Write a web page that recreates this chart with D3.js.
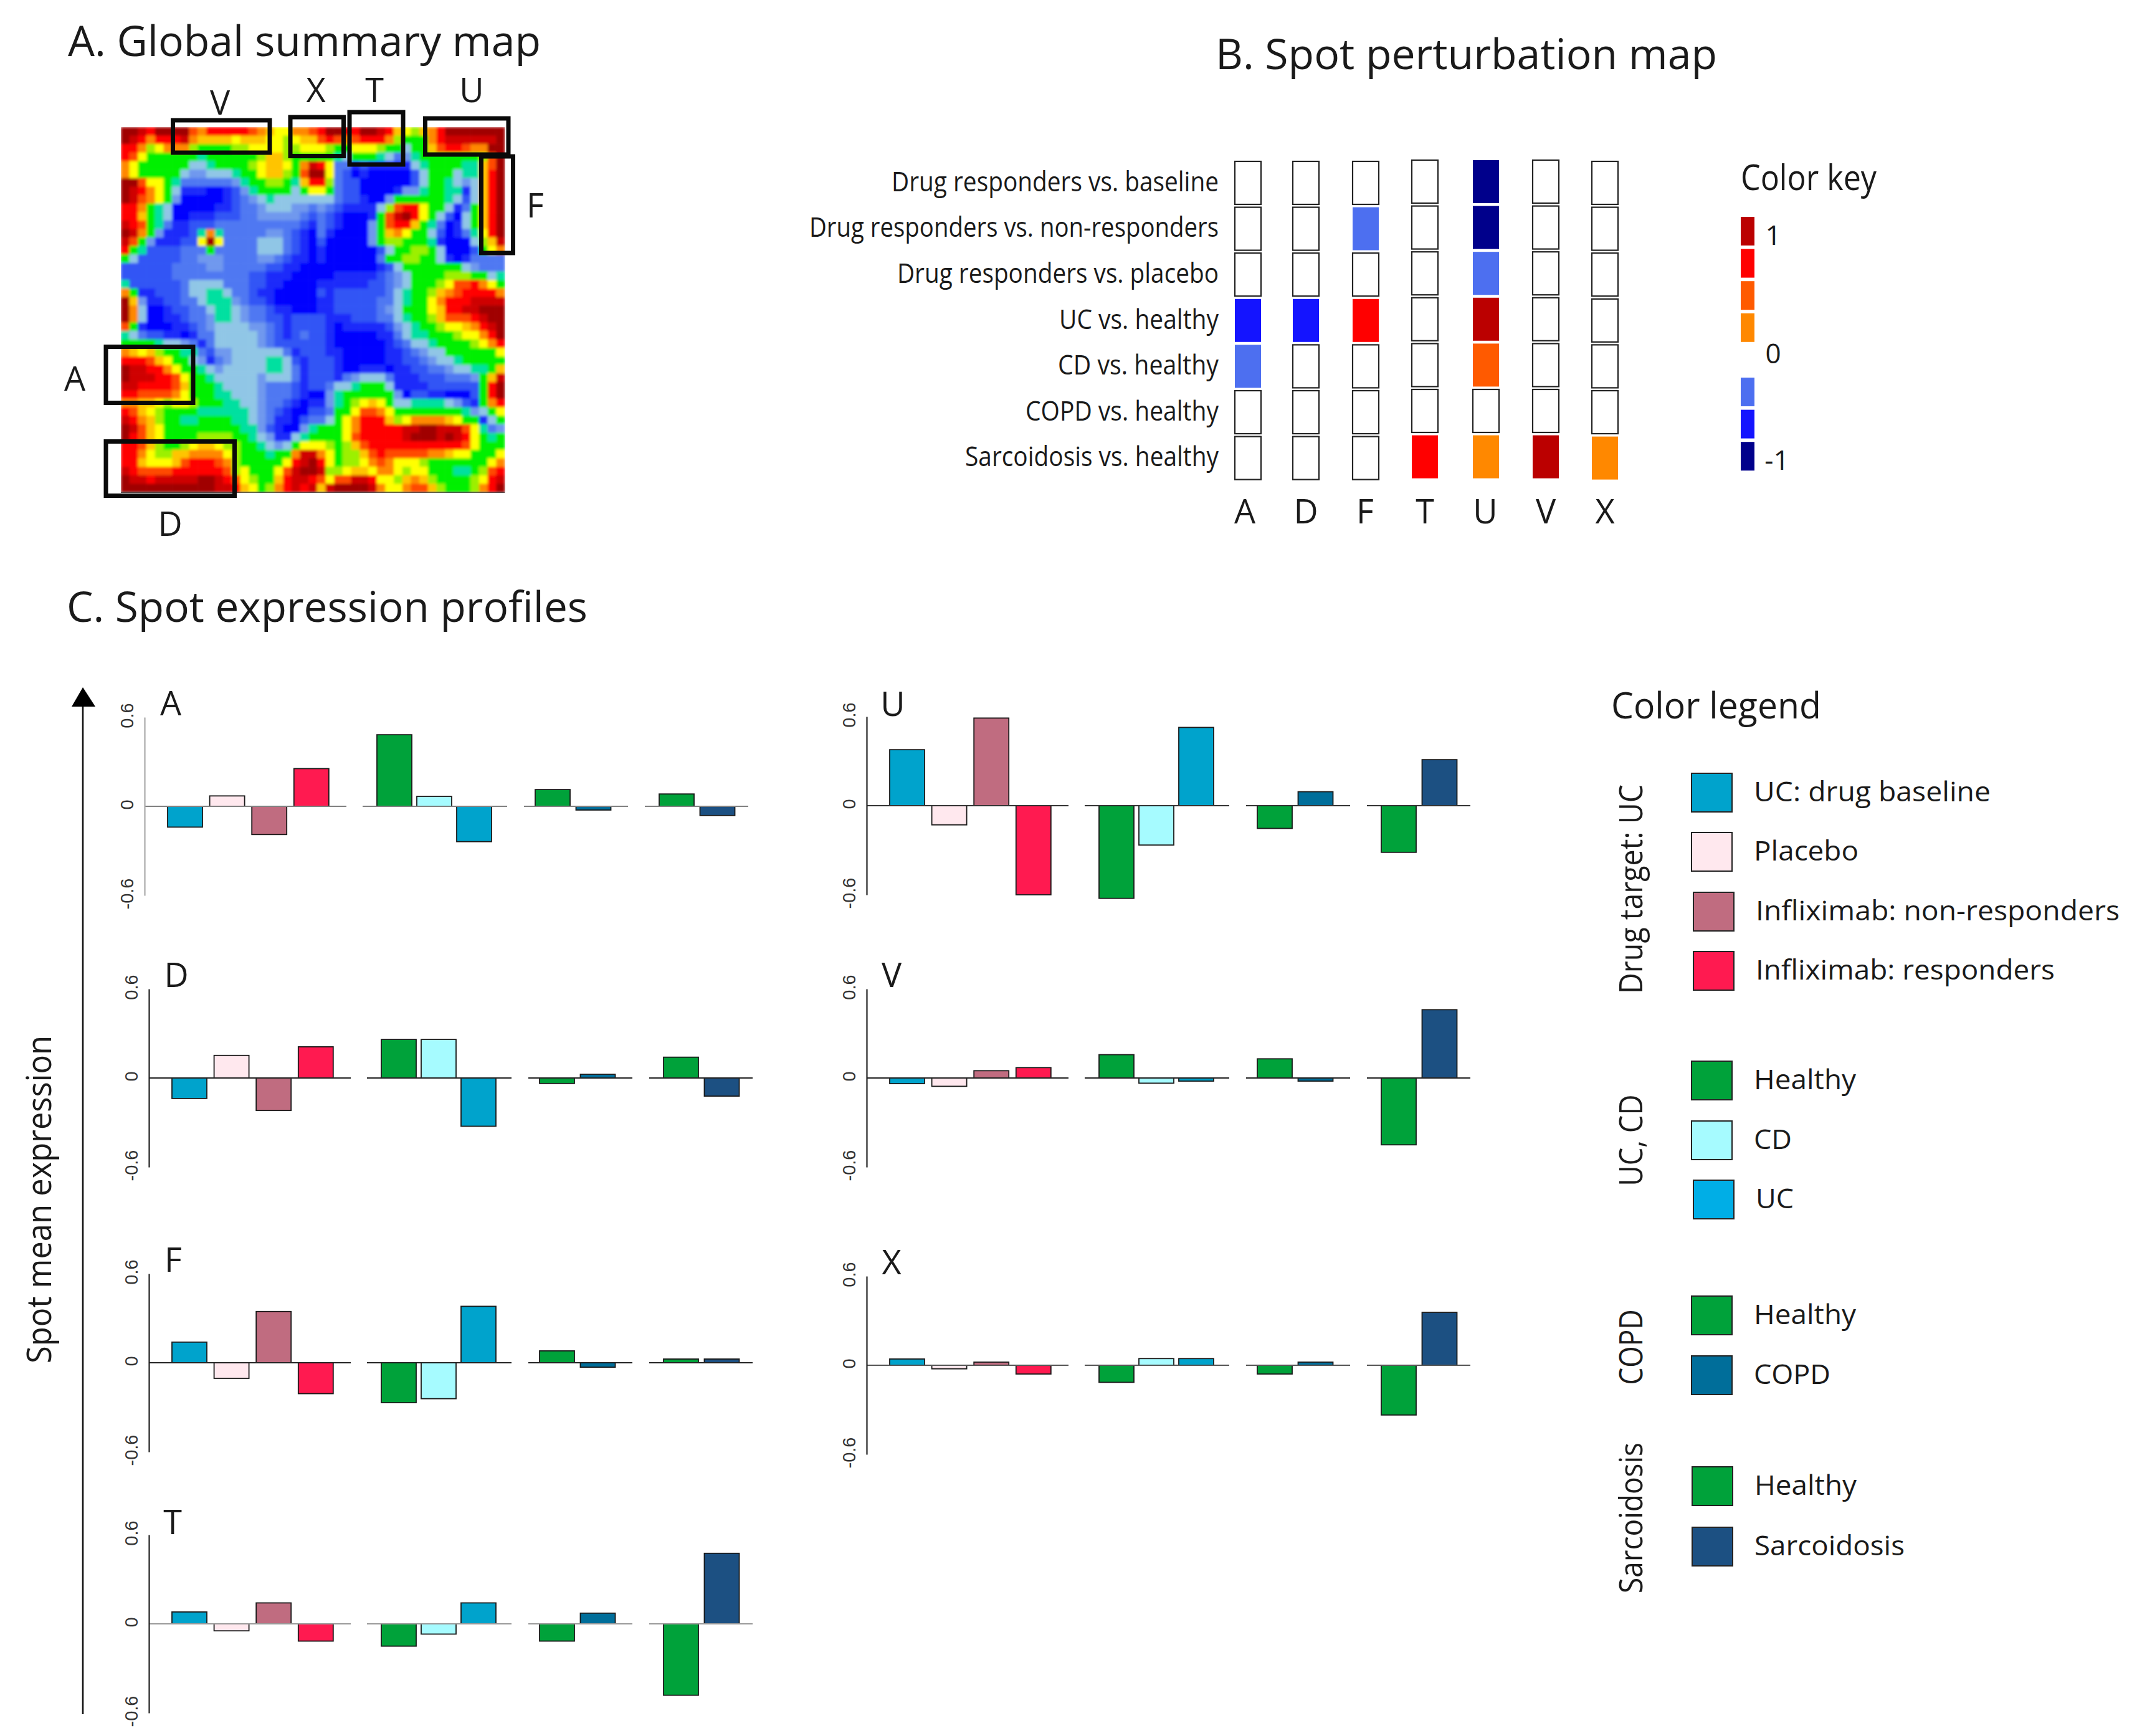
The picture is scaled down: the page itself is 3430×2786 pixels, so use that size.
<!DOCTYPE html>
<html>
<head>
<meta charset="utf-8">
<title>Spot maps and expression profiles</title>
<script src="https://cdn.jsdelivr.net/npm/d3@7"></script>
<style>
  html, body { margin: 0; padding: 0; background: #fff; }
  svg { display: block; }
  text { font-family: "Open Sans", "Noto Sans", sans-serif; fill: #1a1a1a; }
</style>
</head>
<body>
<div id="chart"></div>
<script>
// ---- data -----------------------------------------------------------------

// summary map, one hex digit per cell, 0 = lowest (blue) to f = highest (dark red)
const summaryMap = [
  "ffedffffcbdddddcba99bbcdffddffeda98abdfffffff",
  "fedbdddebaaaa9aaa9989aacdcbcdddb8777bdeeeeeef",
  "ddb89bbb8777788999988999877999877577acddcbbff",
  "dc977777767777778aa877777657776534677777778cf",
  "b9777777556777789aa97bed933121111156777766acf",
  "b9777775445556779aa87cff932010000025777566adf",
  "ffc997633333346778876add832200000025776545adf",
  "fedb97511100124677775799732200001446776615adf",
  "fecb97400000123456555555532210047777776525adf",
  "ddb76500000112334555443432111158cdd9775137adf",
  "dda7650011122233444443232100017cefd9752057adf",
  "edc7631122233333333332132100047cdda7630157adf",
  "feb7411126b63333344321031000047ab9775201369df",
  "ec74111229f93333555321020000047887776100058ae",
  "d7622223337333335553210100000025778875000279b",
  "75222223344433334432110100000037788775101333",
  "222222333344333332211000000000125777777754333",
  "222222333333333221110000011111234577778887756",
  "622222235555333221100001111112234577789ccdb97",
  "b711222355665332110000021222222356778abcddddb",
  "fa41122335666432210000011222223356779bdddeeee",
  "fb50012233566543321100011222223457779addeefff",
  "fb50011233466543322122221112223356778acccdeff",
  "c710001123455554432122221011111245677899abdef",
  "653221101335555543212322100000113566777899bdf",
  "7777655431355555432222221000000123556777789bd",
  "ba9a87766324455555531222110000011234557777779",
  "dddca9775413455556652122210000011223455677777",
  "feeddb97765455555665312221001110112233455667a",
  "feeeddc977655555455531222134555311122233347ae",
  "eeddddca77765555433321223556777511112222227df",
  "ddccccb977766555433321004677777740221100027df",
  "bbaa9899877766554332101146789a9755666654217bd",
  "dca9877776666665432100223779ccb97777777764579",
  "edba87766777766543110233579bddda89bbbba977157",
  "feca97777777776642100467779bdddddeeffeeec9634",
  "fdca97777888877654115677779cdddddefffefed9767",
  "ddca87789aa9887765457999878acdddddddddddc9777",
  "ddb988aabbbb98777677beeb9788acdcccccbba997779",
  "dda999acdddcb8777779defd97889bcb999877777779b",
  "edccccddddddc897779ceffe889aa9bb98997776678cd",
  "feedeeeeeffedc9877adeedc9cceed998aba8777789de",
  "fffffffffffeeda978bdedeaeffffeb99bcca87778bdf"
];
const heatColors = ["#0000ff", "#1a2cfa", "#3355f5", "#4f78f2", "#6f98ee", "#90c6e6",
  "#00e0a0", "#00f000", "#9cf000", "#ffff00", "#ffc400", "#ff8800", "#ff4a00", "#ff0000", "#cf0000", "#a00000"];

// spot boxes drawn on the map
const spotBoxNames = ["V", "X", "T", "U", "F", "A", "D"];

// perturbation map
const contrastLabels = ["Drug responders vs. baseline", "Drug responders vs. non-responders",
  "Drug responders vs. placebo", "UC vs. healthy", "CD vs. healthy", "COPD vs. healthy", "Sarcoidosis vs. healthy"];
const spotLabels = ["A", "D", "F", "T", "U", "V", "X"];
const perturbA = [0, 0, 0, -0.67, -0.33, 0, 0];
const perturbD = [0, 0, 0, -0.67, 0, 0, 0];
const perturbF = [0, -0.33, 0, 0.75, 0, 0, 0];
const perturbT = [0, 0, 0, 0, 0, 0, 0.75];
const perturbU = [-1, -1, -0.33, 1, 0.5, 0, 0.25];
const perturbV = [0, 0, 0, 0, 0, 0, 1];
const perturbX = [0, 0, 0, 0, 0, 0, 0.25];
const keyLevels = [1, 0.75, 0.5, 0.25, 0, -0.33, -0.67, -1];
const keyColors = ["#bb0000", "#ff0000", "#ff5a00", "#ff8800", "#ffffff", "#4d6ff0", "#1414ff", "#00008b"];
const keyTicks = [1, 0, -1];

// expression profiles, in the order of the legend rows
const barGroups = [
  ["drugBase", "placebo", "nonResp", "resp"],
  ["healthyUC", "cd", "uc"],
  ["healthyCOPD", "copd"],
  ["healthySarc", "sarc"]
];
const panelNames = ["A", "D", "F", "T", "U", "V", "X"];
const profileA = [-0.14, 0.07, -0.19, 0.254, 0.482, 0.067, -0.238, 0.113, -0.025, 0.083, -0.062];
const profileD = [-0.138, 0.152, -0.219, 0.21, 0.26, 0.26, -0.325, -0.037, 0.025, 0.14, -0.122];
const profileF = [0.139, -0.105, 0.345, -0.208, -0.269, -0.242, 0.38, 0.08, -0.03, 0.025, 0.025];
const profileT = [0.08, -0.047, 0.141, -0.116, -0.15, -0.069, 0.141, -0.116, 0.072, -0.481, 0.475];
const profileU = [0.377, -0.129, 0.59, -0.6, -0.624, -0.265, 0.527, -0.153, 0.094, -0.314, 0.31];
const profileV = [-0.038, -0.056, 0.049, 0.07, 0.157, -0.035, -0.021, 0.129, -0.021, -0.45, 0.46];
const profileX = [0.042, -0.024, 0.021, -0.059, -0.115, 0.045, 0.045, -0.059, 0.021, -0.335, 0.356];
const profileTicks = [-0.6, 0, 0.6];

const seriesColors = {
  drugBase: "#00a3cc", placebo: "#ffe8ee", nonResp: "#c06c80", resp: "#ff1a50",
  healthyUC: "#00a23a", cd: "#a6fbff", uc: "#00a3cc",
  healthyCOPD: "#00a23a", copd: "#006e9a",
  healthySarc: "#00a23a", sarc: "#1c5082"
};

// legend
const legendHeads = ["Drug target: UC", "UC, CD", "COPD", "Sarcoidosis"];
const legendLabels = [
  ["UC: drug baseline", "Placebo", "Infliximab: non-responders", "Infliximab: responders"],
  ["Healthy", "CD", "UC"],
  ["Healthy", "COPD"],
  ["Healthy", "Sarcoidosis"]
];
const legendColors = [
  ["#00a3cc", "#ffe8ee", "#c06c80", "#ff1a50"],
  ["#00a23a", "#a6fbff", "#00aee6"],
  ["#00a23a", "#006e9a"],
  ["#00a23a", "#1c5082"]
];

// ---- layout ---------------------------------------------------------------

const WIDTH = 3430, HEIGHT = 2786;
const mapBox = { x0: 194, x1: 810, y0: 204, y1: 790 };
const spotBoxes = {
  V: [277.5, 193, 155.5, 52], X: [466, 188, 85.5, 62.5], T: [561, 180, 86, 84],
  U: [682.5, 190, 133.5, 58], F: [772.5, 251, 51, 155], A: [170, 556.5, 140, 90], D: [170, 708.5, 206.5, 87]
};
const spotTextPos = {
  V: [353, 184], X: [507, 164], T: [601, 164], U: [757, 164], F: [859, 349], A: [120, 627], D: [273, 860]
};

const perturb = { cell: 42, y0: 258, rowStep: 73.6, rowH: 69 };
const perturbColumnX = [1982, 2075, 2171, 2266, 2364, 2460, 2555];
const perturbColumnDy = [0, 0, 0, -2, -2, -2, 0];
const spotTextX = [1998, 2096, 2191, 2287, 2384, 2481, 2576];
const contrastWidths = [525, 657, 516, 256, 258, 310, 407];

const panelLayout = {
  A: { axisX: 232, base: 1294, labelX: 274, labelY: 1148, line: "#808080", axis: "#aaaaaa" },
  D: { axisX: 239, base: 1730, labelX: 283, labelY: 1584, line: "#222", axis: "#222" },
  F: { axisX: 239, base: 2187, labelX: 278, labelY: 2041, line: "#222", axis: "#222" },
  T: { axisX: 239, base: 2606, labelX: 277, labelY: 2462, line: "#999999", axis: "#222" },
  U: { axisX: 1391, base: 1293, labelX: 1433, labelY: 1149, line: "#333", axis: "#222" },
  V: { axisX: 1391, base: 1730, labelX: 1431, labelY: 1584, line: "#222", axis: "#222" },
  X: { axisX: 1391, base: 2191, labelX: 1431, labelY: 2045, line: "#555", axis: "#222" }
};
const halfAxis = 143, barW = 56;
const groupLine = [[0, 324], [350, 232], [609, 167], [803, 166]];
const groupBars = [{ start: 37, step: 67.6 }, { start: 373, step: 64 }, { start: 627, step: 65.5 }, { start: 826, step: 65.5 }];

const legendRowY = [[1240, 1335, 1431, 1526], [1702, 1798, 1893], [2079, 2175], [2353, 2450]];
const legendRowDx = [[0, 0, 3, 3], [0, 0, 3], [0, 0], [1, 1]];
const legendWidths = [[380, 168, 584, 480], [164, 61, 61], [164, 123], [164, 241]];
const legendHeadY = [1427, 1830, 2162, 2436];
const legendHeadW = [336, 147, 121, 242];

// ---- drawing --------------------------------------------------------------

const svg = d3.select("#chart").append("svg")
  .attr("width", WIDTH)
  .attr("height", HEIGHT)
  .attr("viewBox", [0, 0, WIDTH, HEIGHT]);

svg.append("rect").attr("width", WIDTH).attr("height", HEIGHT).attr("fill", "#fff");

// text helper: squeezes a string to a wanted width, the source font is narrower than ours
function put(parent, str, x, y, size, width, anchor) {
  const t = parent.append("text")
    .attr("x", x).attr("y", y)
    .attr("font-size", size)
    .attr("text-anchor", anchor || "start")
    .text(str);
  if (width) {
    t.attr("textLength", width).attr("lengthAdjust", "spacingAndGlyphs");
  }
  return t;
}

put(svg, "A. Global summary map", 109, 90, 68, 759);
put(svg, "B. Spot perturbation map", 1951, 111, 68, 805);
put(svg, "C. Spot expression profiles", 107, 998, 68, 836);

// A: summary map
const mapRows = summaryMap.length, mapCols = 45;
const xMap = d3.scaleBand().domain(d3.range(mapCols)).range([mapBox.x0, mapBox.x1]);
const yMap = d3.scaleBand().domain(d3.range(mapRows)).range([mapBox.y0, mapBox.y1]);
const heat = d3.scaleOrdinal().domain(d3.range(16)).range(heatColors);

const defs = svg.append("defs");
defs.append("filter").attr("id", "soft")
  .attr("x", 0).attr("y", 0).attr("width", 1).attr("height", 1)
  .append("feGaussianBlur").attr("stdDeviation", 2.2);

const cells = [];
summaryMap.forEach((row, r) => {
  row.padEnd(mapCols, "3").split("").forEach((ch, c) => cells.push({ r, c, v: parseInt(ch, 16) }));
});

svg.append("g")
  .attr("filter", "url(#soft)")
  .selectAll("rect")
  .data(cells)
  .join("rect")
  .attr("x", d => xMap(d.c))
  .attr("y", d => yMap(d.r))
  .attr("width", xMap.bandwidth() + 0.6)
  .attr("height", yMap.bandwidth() + 0.6)
  .attr("fill", d => heat(d.v));

svg.append("line")
  .attr("x1", mapBox.x0).attr("x2", mapBox.x1)
  .attr("y1", mapBox.y1).attr("y2", mapBox.y1)
  .attr("stroke", "#333").attr("stroke-width", 1.5);

svg.append("g")
  .selectAll("rect")
  .data(spotBoxNames)
  .join("rect")
  .attr("x", d => spotBoxes[d][0])
  .attr("y", d => spotBoxes[d][1])
  .attr("width", d => spotBoxes[d][2])
  .attr("height", d => spotBoxes[d][3])
  .attr("fill", "none")
  .attr("stroke", "#0a0a0a")
  .attr("stroke-width", 7);

spotBoxNames.forEach(s => put(svg, s, spotTextPos[s][0], spotTextPos[s][1], 54, null, "middle"));

// B: perturbation map
const perturbColumns = [perturbA, perturbD, perturbF, perturbT, perturbU, perturbV, perturbX];
const xSpot = d3.scaleOrdinal().domain(spotLabels).range(perturbColumnX);
const yRow = d3.scaleBand().domain(contrastLabels)
  .range([perturb.y0, perturb.y0 + perturb.rowStep * 7]);
const keyColor = d3.scaleOrdinal().domain(keyLevels).range(keyColors);

const perturbData = [];
perturbColumns.forEach((col, i) => col.forEach((v, j) => {
  perturbData.push({ spot: spotLabels[i], row: contrastLabels[j], dy: perturbColumnDy[i], v });
}));

svg.append("g")
  .selectAll("rect")
  .data(perturbData)
  .join("rect")
  .attr("x", d => xSpot(d.spot))
  .attr("y", d => yRow(d.row) + 1 + d.dy)
  .attr("width", perturb.cell)
  .attr("height", perturb.rowH)
  .attr("fill", d => keyColor(d.v))
  .attr("stroke", d => d.v === 0 ? "#222" : "none")
  .attr("stroke-width", 2.2);

contrastLabels.forEach((l, i) => {
  put(svg, l, 1956, yRow(l) + yRow.bandwidth() / 2 + 12, 44, contrastWidths[i], "end");
});
spotLabels.forEach((s, i) => put(svg, s, spotTextX[i], 840, 54, null, "middle"));

// color key
put(svg, "Color key", 2794, 305, 56, 218);
const yKey = d3.scaleBand().domain(keyLevels).range([348, 348 + 51.6 * 8]);
svg.append("g")
  .selectAll("rect")
  .data(keyLevels.filter(d => d !== 0))
  .join("rect")
  .attr("x", 2794)
  .attr("y", d => yKey(d))
  .attr("width", 22)
  .attr("height", 46)
  .attr("fill", d => keyColor(d));
const yKeyTick = d3.scaleLinear().domain([-1, 0, 1]).range([754, 583, 393]);
keyTicks.forEach(t => put(svg, String(t), t === -1 ? 2852 : 2846, yKeyTick(t), 44, null, "middle"));

// C: expression profiles
const panelValues = {
  A: profileA, D: profileD, F: profileF, T: profileT, U: profileU, V: profileV, X: profileX
};

panelNames.forEach(name => {
  const p = panelLayout[name];
  const values = panelValues[name];
  const y = d3.scaleLinear().domain([-0.6, 0.6]).range([p.base + halfAxis, p.base - halfAxis]);
  const g = svg.append("g").attr("class", "panel");

  // one band scale per group of bars
  let offset = 0;
  barGroups.forEach((group, gi) => {
    const [lineX, lineW] = groupLine[gi];
    const { start, step } = groupBars[gi];
    const x = d3.scaleBand()
      .domain(group)
      .range([p.axisX + start, p.axisX + start + step * (group.length - 1) + barW])
      .paddingInner(1 - barW / step)
      .paddingOuter(0);
    const groupValues = values.slice(offset, offset + group.length);
    offset += group.length;

    g.append("g")
      .selectAll("rect")
      .data(group.map((k, i) => ({ k, v: groupValues[i] })))
      .join("rect")
      .attr("x", d => x(d.k))
      .attr("y", d => Math.min(y(d.v), y(0)))
      .attr("width", x.bandwidth())
      .attr("height", d => Math.abs(y(d.v) - y(0)))
      .attr("fill", d => seriesColors[d.k])
      .attr("stroke", "#1a1a1a")
      .attr("stroke-width", 1.8);

    g.append("line")
      .attr("x1", p.axisX + lineX).attr("x2", p.axisX + lineX + lineW)
      .attr("y1", y(0)).attr("y2", y(0))
      .attr("stroke", p.line).attr("stroke-width", 2.2);
  });

  const axis = g.append("g")
    .attr("transform", `translate(${p.axisX},0)`)
    .call(d3.axisLeft(y).tickValues(profileTicks).tickSize(0).tickFormat(d => String(d)));
  axis.select(".domain").attr("stroke", p.axis).attr("stroke-width", 2.2);
  axis.selectAll("text")
    .attr("x", null).attr("dy", null)
    .attr("transform", "translate(-26,-3) rotate(-90)")
    .attr("text-anchor", "middle")
    .attr("dominant-baseline", "middle")
    .attr("font-size", 29)
    .style("font-family", "'Liberation Sans', sans-serif")
    .style("fill", "#333");

  put(g, name, p.labelX, p.labelY, 54, null, "middle");
});

// y arrow and its title
svg.append("line")
  .attr("x1", 133).attr("x2", 133)
  .attr("y1", 1130).attr("y2", 2751)
  .attr("stroke", "#111").attr("stroke-width", 2.6);
svg.append("path")
  .attr("d", d3.line()([[133, 1103], [153, 1134], [115, 1134]]) + "Z")
  .attr("fill", "#000");
put(svg, "Spot mean expression", 0, 0, 54, 526, "middle")
  .attr("transform", "translate(82,1925) rotate(-90)");

// color legend
put(svg, "Color legend", 2586, 1153, 58, 337);
legendLabels.forEach((labels, gi) => {
  put(svg, legendHeads[gi], 0, 0, 52, legendHeadW[gi], "middle")
    .attr("transform", `translate(2636,${legendHeadY[gi]}) rotate(-90)`);

  labels.forEach((label, i) => {
    const rowY = legendRowY[gi][i];
    const dx = legendRowDx[gi][i];
    svg.append("rect")
      .attr("x", 2715 + dx).attr("y", rowY + 1)
      .attr("width", 65).attr("height", 62)
      .attr("fill", legendColors[gi][i])
      .attr("stroke", "#222").attr("stroke-width", 2);
    put(svg, label, 2815 + dx, rowY + 46, 44, legendWidths[gi][i]);
  });
});
</script>
</body>
</html>
